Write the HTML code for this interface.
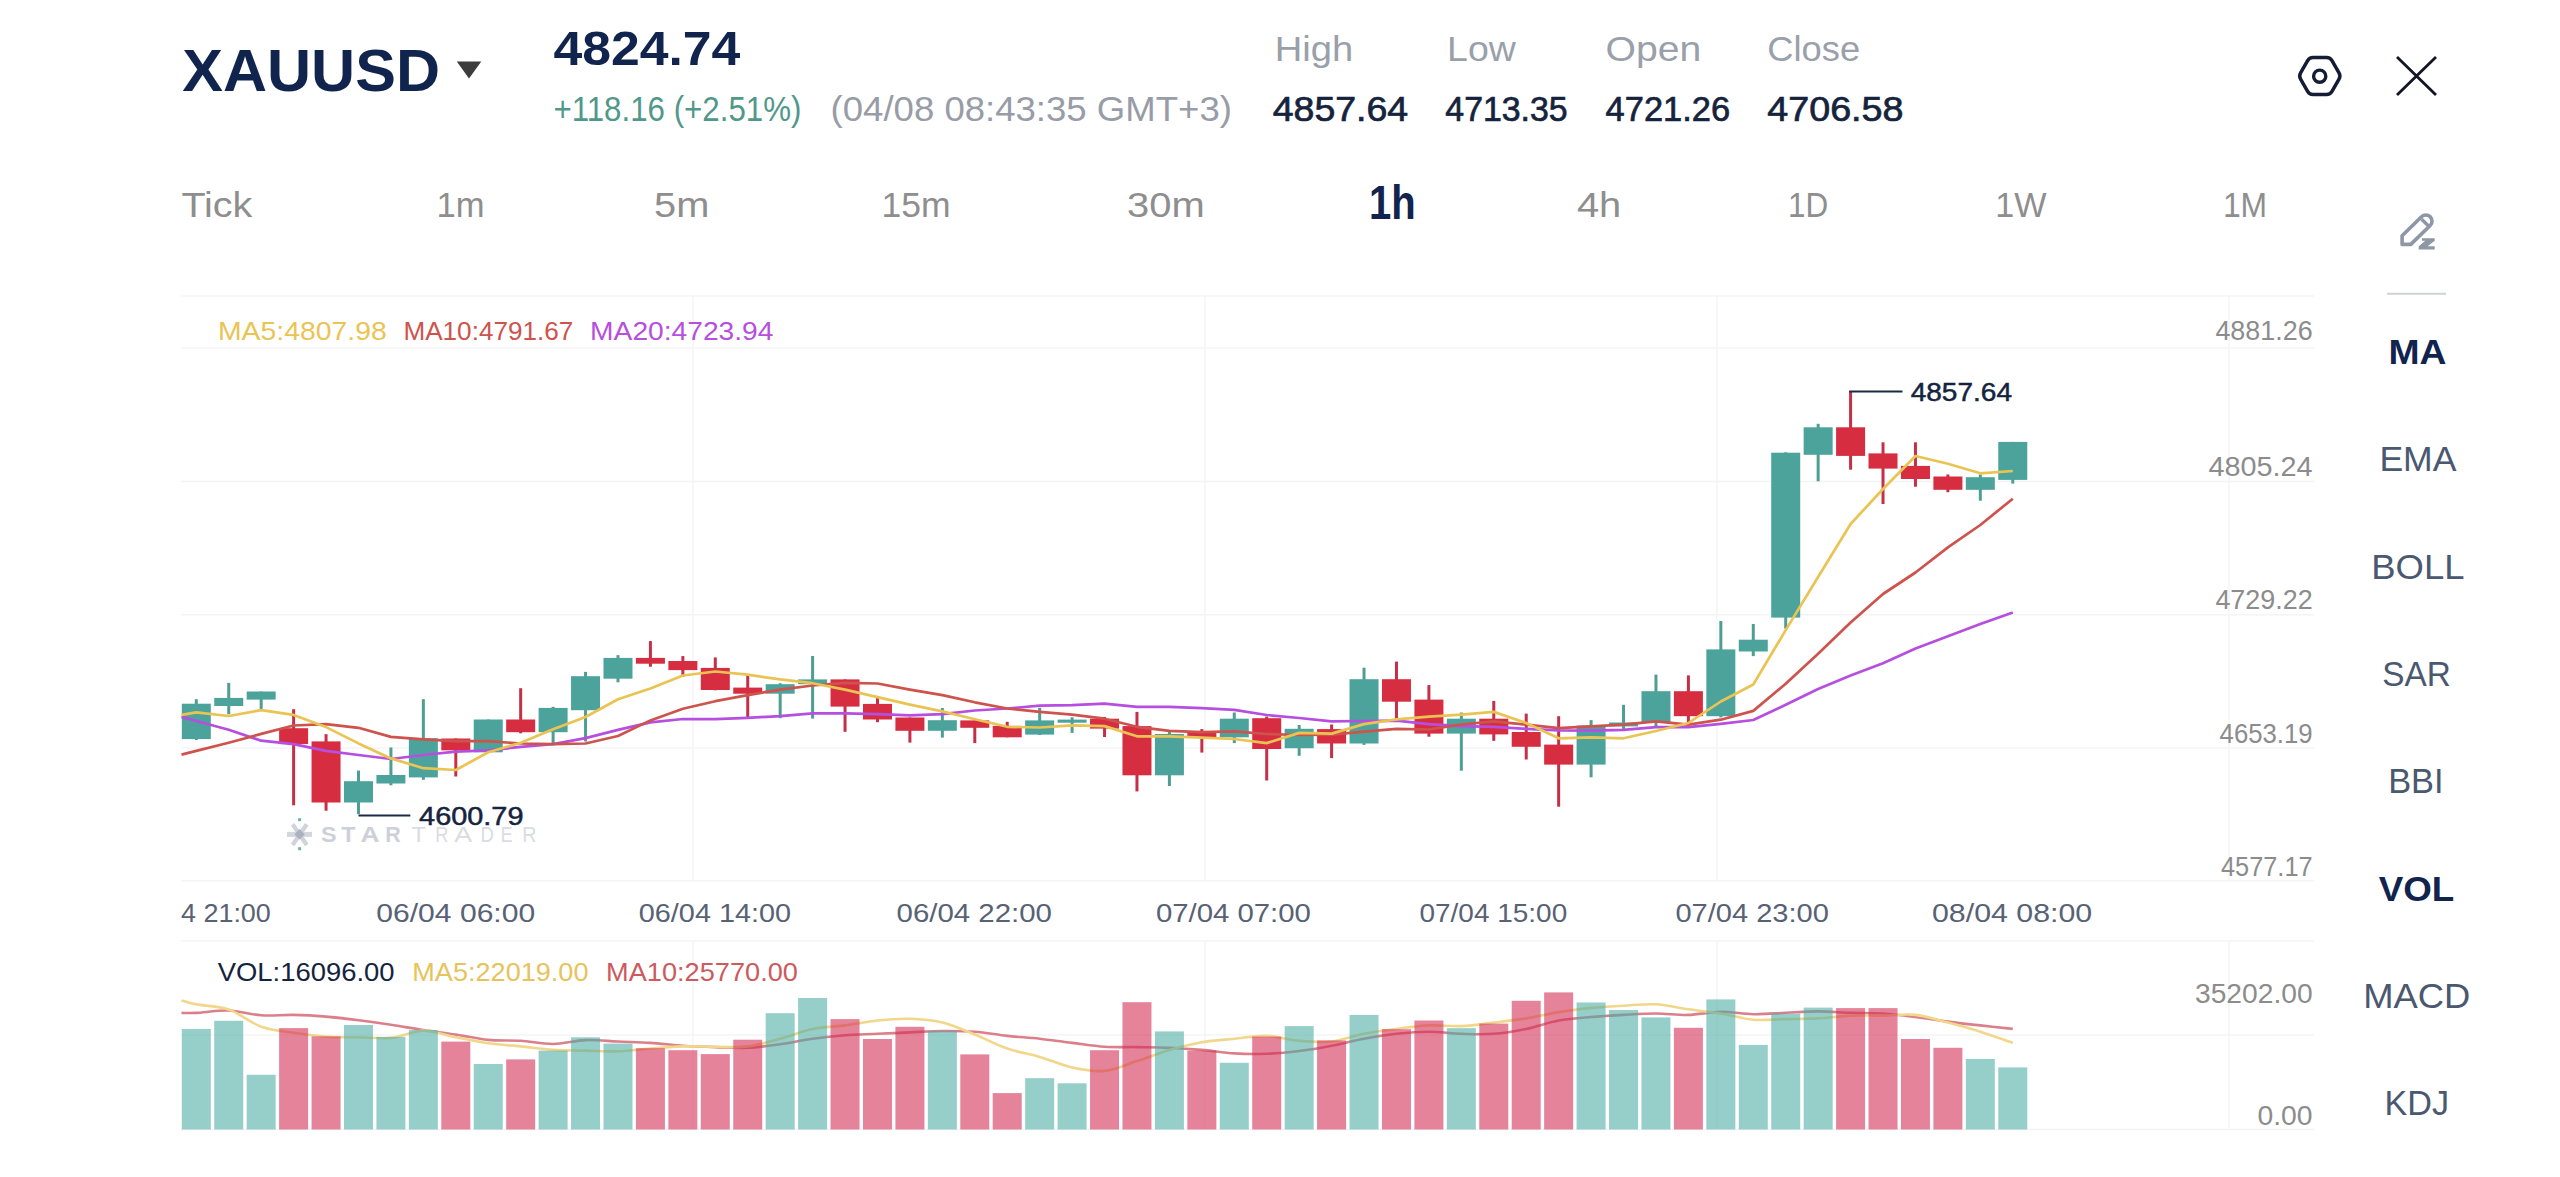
<!DOCTYPE html>
<html><head><meta charset="utf-8"><style>
html,body{margin:0;padding:0;background:#fff;width:2560px;height:1177px;overflow:hidden}
svg{display:block;font-family:"Liberation Sans",sans-serif}
</style></head><body>
<svg width="2560" height="1177" viewBox="0 0 2560 1177">
<rect width="2560" height="1177" fill="#fff"/>
<defs><clipPath id="cl"><rect x="181" y="0" width="2140" height="1177"/></clipPath></defs>
<line x1="181" y1="296" x2="2314" y2="296" stroke="#f4f4f5" stroke-width="1.5"/>
<line x1="181" y1="348" x2="2314" y2="348" stroke="#f4f4f5" stroke-width="1.5"/>
<line x1="181" y1="481.5" x2="2314" y2="481.5" stroke="#f4f4f5" stroke-width="1.5"/>
<line x1="181" y1="614.7" x2="2314" y2="614.7" stroke="#f4f4f5" stroke-width="1.5"/>
<line x1="181" y1="748" x2="2314" y2="748" stroke="#f4f4f5" stroke-width="1.5"/>
<line x1="181" y1="880.7" x2="2314" y2="880.7" stroke="#f4f4f5" stroke-width="1.5"/>
<line x1="181" y1="941" x2="2314" y2="941" stroke="#f4f4f5" stroke-width="1.5"/>
<line x1="181" y1="1035" x2="2314" y2="1035" stroke="#f4f4f5" stroke-width="1.5"/>
<line x1="181" y1="1129.5" x2="2314" y2="1129.5" stroke="#f4f4f5" stroke-width="1.5"/>
<line x1="693" y1="296" x2="693" y2="880.7" stroke="#f4f4f5" stroke-width="1.5"/>
<line x1="693" y1="941" x2="693" y2="1129.5" stroke="#f4f4f5" stroke-width="1.5"/>
<line x1="1205" y1="296" x2="1205" y2="880.7" stroke="#f4f4f5" stroke-width="1.5"/>
<line x1="1205" y1="941" x2="1205" y2="1129.5" stroke="#f4f4f5" stroke-width="1.5"/>
<line x1="1717" y1="296" x2="1717" y2="880.7" stroke="#f4f4f5" stroke-width="1.5"/>
<line x1="1717" y1="941" x2="1717" y2="1129.5" stroke="#f4f4f5" stroke-width="1.5"/>
<line x1="2229" y1="296" x2="2229" y2="880.7" stroke="#f4f4f5" stroke-width="1.5"/>
<line x1="2229" y1="941" x2="2229" y2="1129.5" stroke="#f4f4f5" stroke-width="1.5"/>
<g opacity="1">
<rect x="287" y="831.9" width="25" height="5" fill="#d3d6dd"/>
<path d="M292.6,824.2 L306.8,845 M306.8,824.2 L292.6,845" stroke="#d0d3da" stroke-width="4.2"/>
<polygon points="299.6,829 304.8,834.4 299.6,839.6 294.4,834.4" fill="#aab2c2"/>
<rect x="298.1" y="818.2" width="3" height="3" fill="#6fb3a4"/>
<rect x="298.1" y="847.2" width="3" height="3" fill="#6fb3a4"/>
<text x="321.1" y="841.8" font-size="21.51" font-weight="700" fill="#cdd0d8" textLength="15.5" lengthAdjust="spacingAndGlyphs">S</text>
<text x="341.3" y="841.8" font-size="21.51" font-weight="700" fill="#cdd0d8" textLength="14.3" lengthAdjust="spacingAndGlyphs">T</text>
<text x="360.4" y="841.8" font-size="21.51" font-weight="700" fill="#cdd0d8" textLength="19.0" lengthAdjust="spacingAndGlyphs">A</text>
<text x="385.3" y="841.8" font-size="21.51" font-weight="700" fill="#cdd0d8" textLength="15.5" lengthAdjust="spacingAndGlyphs">R</text>
<text x="411.5" y="841.8" font-size="21.51" font-weight="400" fill="#d9dce3" textLength="14.3" lengthAdjust="spacingAndGlyphs">T</text>
<text x="435.3" y="841.8" font-size="21.51" font-weight="400" fill="#d9dce3" textLength="13.1" lengthAdjust="spacingAndGlyphs">R</text>
<text x="454.3" y="841.8" font-size="21.51" font-weight="400" fill="#d9dce3" textLength="17.9" lengthAdjust="spacingAndGlyphs">A</text>
<text x="480.5" y="841.8" font-size="21.51" font-weight="400" fill="#d9dce3" textLength="13.3" lengthAdjust="spacingAndGlyphs">D</text>
<text x="500.8" y="841.8" font-size="21.51" font-weight="400" fill="#d9dce3" textLength="11.8" lengthAdjust="spacingAndGlyphs">E</text>
<text x="522.2" y="841.8" font-size="21.51" font-weight="400" fill="#d9dce3" textLength="14.2" lengthAdjust="spacingAndGlyphs">R</text>
</g>
<path d="M181.5,1012.9 C184.0,1012.9 188.4,1013.3 196.3,1012.9 C204.2,1012.5 217.9,1010.1 228.7,1010.5 C239.5,1010.9 250.4,1014.6 261.2,1015.3 C272.0,1016.0 282.8,1014.7 293.6,1014.9 C304.4,1015.1 315.2,1015.7 326.0,1016.6 C336.9,1017.5 347.7,1018.8 358.5,1020.2 C369.3,1021.6 380.1,1023.2 390.9,1024.8 C401.7,1026.4 412.5,1028.4 423.4,1030.0 C434.2,1031.6 445.0,1032.9 455.8,1034.6 C466.6,1036.2 477.4,1038.9 488.2,1039.9 C499.0,1040.9 509.9,1040.1 520.7,1040.8 C531.5,1041.5 542.3,1044.1 553.1,1044.0 C563.9,1043.9 574.7,1040.5 585.5,1040.1 C596.4,1039.7 607.2,1041.0 618.0,1041.5 C628.8,1042.0 639.6,1042.2 650.4,1042.9 C661.2,1043.6 672.0,1045.0 682.9,1045.7 C693.7,1046.4 704.5,1046.8 715.3,1047.1 C726.1,1047.4 736.9,1048.3 747.7,1047.8 C758.5,1047.3 769.4,1045.8 780.2,1044.3 C791.0,1042.8 801.8,1040.2 812.6,1038.7 C823.4,1037.2 834.2,1036.0 845.0,1035.2 C855.9,1034.4 866.7,1034.3 877.5,1033.8 C888.3,1033.3 899.1,1032.9 909.9,1032.4 C920.7,1031.9 931.5,1031.1 942.4,1031.0 C953.2,1030.9 964.0,1030.9 974.8,1031.7 C985.6,1032.5 996.4,1034.7 1007.2,1035.9 C1018.0,1037.1 1028.8,1037.5 1039.7,1038.7 C1050.5,1039.9 1061.3,1041.6 1072.1,1042.9 C1082.9,1044.2 1093.7,1046.1 1104.5,1046.8 C1115.3,1047.5 1126.2,1046.9 1137.0,1047.1 C1147.8,1047.3 1158.6,1047.3 1169.4,1047.8 C1180.2,1048.3 1191.0,1049.0 1201.8,1049.9 C1212.7,1050.8 1223.5,1052.8 1234.3,1053.4 C1245.1,1054.1 1255.9,1054.2 1266.7,1053.8 C1277.5,1053.4 1288.3,1052.3 1299.2,1051.0 C1310.0,1049.7 1320.8,1047.8 1331.6,1045.7 C1342.4,1043.7 1353.2,1040.7 1364.0,1038.7 C1374.8,1036.7 1385.7,1035.0 1396.5,1033.8 C1407.3,1032.6 1418.1,1031.7 1428.9,1031.7 C1439.7,1031.7 1450.5,1033.5 1461.3,1033.8 C1472.2,1034.1 1483.0,1034.6 1493.8,1033.8 C1504.6,1033.0 1515.4,1031.1 1526.2,1028.9 C1537.0,1026.7 1547.8,1022.5 1558.7,1020.5 C1569.5,1018.5 1580.3,1017.9 1591.1,1017.0 C1601.9,1016.1 1612.7,1015.5 1623.5,1014.9 C1634.3,1014.3 1645.2,1013.5 1656.0,1013.5 C1666.8,1013.5 1677.6,1015.2 1688.4,1014.9 C1699.2,1014.6 1710.0,1011.9 1720.8,1011.8 C1731.7,1011.7 1742.5,1014.0 1753.3,1014.2 C1764.1,1014.4 1774.9,1013.3 1785.7,1012.8 C1796.5,1012.3 1807.3,1011.4 1818.1,1011.4 C1829.0,1011.4 1839.8,1012.4 1850.6,1012.8 C1861.4,1013.1 1872.2,1012.8 1883.0,1013.5 C1893.8,1014.2 1904.6,1015.6 1915.5,1017.0 C1926.3,1018.4 1937.1,1020.2 1947.9,1021.6 C1958.7,1023.0 1969.5,1024.2 1980.3,1025.4 C1991.1,1026.6 2007.4,1028.3 2012.8,1028.9" fill="none" stroke="#db808a" stroke-width="2.6"/>
<path d="M181.5,1000.4 C184.0,1001.1 188.4,1002.9 196.3,1004.4 C204.2,1005.9 217.9,1005.9 228.7,1009.6 C239.5,1013.3 250.4,1022.9 261.2,1026.7 C272.0,1030.5 282.8,1031.1 293.6,1032.7 C304.4,1034.3 315.2,1035.8 326.0,1036.6 C336.9,1037.4 347.7,1037.1 358.5,1037.3 C369.3,1037.5 380.1,1039.0 390.9,1037.9 C401.7,1036.8 412.5,1030.8 423.4,1030.7 C434.2,1030.6 445.0,1035.2 455.8,1037.3 C466.6,1039.4 477.4,1041.7 488.2,1043.2 C499.0,1044.7 509.9,1045.3 520.7,1046.4 C531.5,1047.5 542.3,1049.2 553.1,1049.9 C563.9,1050.6 574.7,1050.4 585.5,1050.6 C596.4,1050.8 607.2,1051.6 618.0,1051.3 C628.8,1051.0 639.6,1049.3 650.4,1048.5 C661.2,1047.7 672.0,1046.7 682.9,1046.4 C693.7,1046.1 704.5,1046.8 715.3,1046.8 C726.1,1046.8 736.9,1047.8 747.7,1046.4 C758.5,1045.1 769.4,1041.6 780.2,1038.7 C791.0,1035.8 801.8,1031.1 812.6,1028.9 C823.4,1026.7 834.2,1026.8 845.0,1025.4 C855.9,1024.0 866.7,1021.6 877.5,1020.5 C888.3,1019.4 899.1,1018.4 909.9,1018.8 C920.7,1019.1 931.5,1020.0 942.4,1022.6 C953.2,1025.2 964.0,1030.2 974.8,1034.5 C985.6,1038.8 996.4,1044.8 1007.2,1048.5 C1018.0,1052.2 1028.8,1053.8 1039.7,1056.9 C1050.5,1060.1 1061.3,1065.1 1072.1,1067.4 C1082.9,1069.7 1093.7,1072.0 1104.5,1070.9 C1115.3,1069.9 1126.2,1064.6 1137.0,1061.1 C1147.8,1057.6 1158.6,1053.1 1169.4,1049.9 C1180.2,1046.8 1191.0,1044.1 1201.8,1042.2 C1212.7,1040.3 1223.5,1039.8 1234.3,1038.7 C1245.1,1037.7 1255.9,1035.6 1266.7,1035.9 C1277.5,1036.2 1288.3,1039.9 1299.2,1040.8 C1310.0,1041.7 1320.8,1042.7 1331.6,1041.5 C1342.4,1040.3 1353.2,1035.9 1364.0,1033.8 C1374.8,1031.7 1385.7,1030.3 1396.5,1028.9 C1407.3,1027.5 1418.1,1025.9 1428.9,1025.4 C1439.7,1024.9 1450.5,1026.6 1461.3,1026.1 C1472.2,1025.6 1483.0,1023.9 1493.8,1022.6 C1504.6,1021.3 1515.4,1020.1 1526.2,1018.4 C1537.0,1016.6 1547.8,1013.9 1558.7,1012.1 C1569.5,1010.4 1580.3,1009.0 1591.1,1007.9 C1601.9,1006.8 1612.7,1006.3 1623.5,1005.7 C1634.3,1005.1 1645.2,1003.7 1656.0,1004.3 C1666.8,1004.9 1677.6,1007.8 1688.4,1009.3 C1699.2,1010.8 1710.0,1011.8 1720.8,1013.5 C1731.7,1015.2 1742.5,1018.9 1753.3,1019.8 C1764.1,1020.7 1774.9,1019.3 1785.7,1019.1 C1796.5,1018.9 1807.3,1019.0 1818.1,1018.4 C1829.0,1017.8 1839.8,1016.1 1850.6,1015.6 C1861.4,1015.1 1872.2,1015.7 1883.0,1015.6 C1893.8,1015.5 1904.6,1013.7 1915.5,1014.9 C1926.3,1016.1 1937.1,1019.8 1947.9,1022.6 C1958.7,1025.4 1969.5,1028.3 1980.3,1031.7 C1991.1,1035.1 2007.4,1041.0 2012.8,1042.9" fill="none" stroke="#f2d68a" stroke-width="2.6"/>
<rect x="181.80" y="1029.0" width="29.0" height="100.5" fill="#4aaba4" fill-opacity="0.58"/>
<rect x="214.24" y="1020.8" width="29.0" height="108.7" fill="#4aaba4" fill-opacity="0.58"/>
<rect x="246.67" y="1074.8" width="29.0" height="54.7" fill="#4aaba4" fill-opacity="0.58"/>
<rect x="279.11" y="1028.1" width="29.0" height="101.4" fill="#d22951" fill-opacity="0.58"/>
<rect x="311.55" y="1036.4" width="29.0" height="93.1" fill="#d22951" fill-opacity="0.58"/>
<rect x="343.99" y="1025.0" width="29.0" height="104.5" fill="#4aaba4" fill-opacity="0.58"/>
<rect x="376.42" y="1036.9" width="29.0" height="92.6" fill="#4aaba4" fill-opacity="0.58"/>
<rect x="408.86" y="1030.0" width="29.0" height="99.5" fill="#4aaba4" fill-opacity="0.58"/>
<rect x="441.30" y="1041.6" width="29.0" height="87.9" fill="#d22951" fill-opacity="0.58"/>
<rect x="473.73" y="1064.0" width="29.0" height="65.5" fill="#4aaba4" fill-opacity="0.58"/>
<rect x="506.17" y="1059.4" width="29.0" height="70.1" fill="#d22951" fill-opacity="0.58"/>
<rect x="538.61" y="1050.6" width="29.0" height="78.9" fill="#4aaba4" fill-opacity="0.58"/>
<rect x="571.04" y="1037.3" width="29.0" height="92.2" fill="#4aaba4" fill-opacity="0.58"/>
<rect x="603.48" y="1043.6" width="29.0" height="85.9" fill="#4aaba4" fill-opacity="0.58"/>
<rect x="635.92" y="1048.2" width="29.0" height="81.3" fill="#d22951" fill-opacity="0.58"/>
<rect x="668.36" y="1050.2" width="29.0" height="79.3" fill="#d22951" fill-opacity="0.58"/>
<rect x="700.79" y="1054.1" width="29.0" height="75.4" fill="#d22951" fill-opacity="0.58"/>
<rect x="733.23" y="1039.7" width="29.0" height="89.8" fill="#d22951" fill-opacity="0.58"/>
<rect x="765.67" y="1013.2" width="29.0" height="116.3" fill="#4aaba4" fill-opacity="0.58"/>
<rect x="798.10" y="998.0" width="29.0" height="131.5" fill="#4aaba4" fill-opacity="0.58"/>
<rect x="830.54" y="1019.1" width="29.0" height="110.4" fill="#d22951" fill-opacity="0.58"/>
<rect x="862.98" y="1039.0" width="29.0" height="90.5" fill="#d22951" fill-opacity="0.58"/>
<rect x="895.41" y="1026.8" width="29.0" height="102.7" fill="#d22951" fill-opacity="0.58"/>
<rect x="927.85" y="1031.0" width="29.0" height="98.5" fill="#4aaba4" fill-opacity="0.58"/>
<rect x="960.29" y="1054.4" width="29.0" height="75.1" fill="#d22951" fill-opacity="0.58"/>
<rect x="992.72" y="1093.1" width="29.0" height="36.4" fill="#d22951" fill-opacity="0.58"/>
<rect x="1025.16" y="1078.2" width="29.0" height="51.3" fill="#4aaba4" fill-opacity="0.58"/>
<rect x="1057.60" y="1083.3" width="29.0" height="46.2" fill="#4aaba4" fill-opacity="0.58"/>
<rect x="1090.04" y="1050.2" width="29.0" height="79.3" fill="#d22951" fill-opacity="0.58"/>
<rect x="1122.47" y="1002.2" width="29.0" height="127.3" fill="#d22951" fill-opacity="0.58"/>
<rect x="1154.91" y="1031.4" width="29.0" height="98.1" fill="#4aaba4" fill-opacity="0.58"/>
<rect x="1187.35" y="1050.6" width="29.0" height="78.9" fill="#d22951" fill-opacity="0.58"/>
<rect x="1219.78" y="1062.8" width="29.0" height="66.7" fill="#4aaba4" fill-opacity="0.58"/>
<rect x="1252.22" y="1036.6" width="29.0" height="92.9" fill="#d22951" fill-opacity="0.58"/>
<rect x="1284.66" y="1026.1" width="29.0" height="103.4" fill="#4aaba4" fill-opacity="0.58"/>
<rect x="1317.09" y="1040.4" width="29.0" height="89.1" fill="#d22951" fill-opacity="0.58"/>
<rect x="1349.53" y="1014.9" width="29.0" height="114.6" fill="#4aaba4" fill-opacity="0.58"/>
<rect x="1381.97" y="1029.2" width="29.0" height="100.3" fill="#d22951" fill-opacity="0.58"/>
<rect x="1414.41" y="1020.5" width="29.0" height="109.0" fill="#d22951" fill-opacity="0.58"/>
<rect x="1446.84" y="1028.2" width="29.0" height="101.3" fill="#4aaba4" fill-opacity="0.58"/>
<rect x="1479.28" y="1023.6" width="29.0" height="105.9" fill="#d22951" fill-opacity="0.58"/>
<rect x="1511.72" y="1000.8" width="29.0" height="128.7" fill="#d22951" fill-opacity="0.58"/>
<rect x="1544.15" y="992.4" width="29.0" height="137.1" fill="#d22951" fill-opacity="0.58"/>
<rect x="1576.59" y="1002.5" width="29.0" height="127.0" fill="#4aaba4" fill-opacity="0.58"/>
<rect x="1609.03" y="1010.0" width="29.0" height="119.5" fill="#4aaba4" fill-opacity="0.58"/>
<rect x="1641.46" y="1017.4" width="29.0" height="112.1" fill="#4aaba4" fill-opacity="0.58"/>
<rect x="1673.90" y="1027.8" width="29.0" height="101.7" fill="#d22951" fill-opacity="0.58"/>
<rect x="1706.34" y="999.4" width="29.0" height="130.1" fill="#4aaba4" fill-opacity="0.58"/>
<rect x="1738.78" y="1045.0" width="29.0" height="84.5" fill="#4aaba4" fill-opacity="0.58"/>
<rect x="1771.21" y="1013.7" width="29.0" height="115.8" fill="#4aaba4" fill-opacity="0.58"/>
<rect x="1803.65" y="1007.6" width="29.0" height="121.9" fill="#4aaba4" fill-opacity="0.58"/>
<rect x="1836.09" y="1008.1" width="29.0" height="121.4" fill="#d22951" fill-opacity="0.58"/>
<rect x="1868.52" y="1008.1" width="29.0" height="121.4" fill="#d22951" fill-opacity="0.58"/>
<rect x="1900.96" y="1039.0" width="29.0" height="90.5" fill="#d22951" fill-opacity="0.58"/>
<rect x="1933.40" y="1047.8" width="29.0" height="81.7" fill="#d22951" fill-opacity="0.58"/>
<rect x="1965.83" y="1059.0" width="29.0" height="70.5" fill="#4aaba4" fill-opacity="0.58"/>
<rect x="1998.27" y="1067.4" width="29.0" height="62.1" fill="#4aaba4" fill-opacity="0.58"/>
<g>
<rect x="194.80" y="699.2" width="3" height="40.8" fill="#4f9e94"/>
<rect x="181.80" y="703.7" width="29.0" height="35.4" fill="#4ca39b"/>
<rect x="227.24" y="682.9" width="3" height="31.3" fill="#4f9e94"/>
<rect x="214.24" y="697.9" width="29.0" height="8.1" fill="#4ca39b"/>
<rect x="259.67" y="691.5" width="3" height="18.6" fill="#4f9e94"/>
<rect x="246.67" y="691.5" width="29.0" height="8.1" fill="#4ca39b"/>
<rect x="292.11" y="709.2" width="3" height="96.1" fill="#c53048"/>
<rect x="279.11" y="728.2" width="29.0" height="15.9" fill="#d72d41"/>
<rect x="324.55" y="734.2" width="3" height="76.5" fill="#c53048"/>
<rect x="311.55" y="741.4" width="29.0" height="61.1" fill="#d72d41"/>
<rect x="356.99" y="770.6" width="3" height="43.5" fill="#4f9e94"/>
<rect x="343.99" y="781.2" width="29.0" height="21.3" fill="#4ca39b"/>
<rect x="389.42" y="747.5" width="3" height="37.8" fill="#4f9e94"/>
<rect x="376.42" y="775.0" width="29.0" height="8.5" fill="#4ca39b"/>
<rect x="421.86" y="699.2" width="3" height="80.6" fill="#4f9e94"/>
<rect x="408.86" y="738.2" width="29.0" height="39.2" fill="#4ca39b"/>
<rect x="454.30" y="738.5" width="3" height="38.0" fill="#c53048"/>
<rect x="441.30" y="738.5" width="29.0" height="11.8" fill="#d72d41"/>
<rect x="486.73" y="719.5" width="3" height="32.8" fill="#4f9e94"/>
<rect x="473.73" y="719.5" width="29.0" height="32.8" fill="#4ca39b"/>
<rect x="519.17" y="688.2" width="3" height="45.1" fill="#c53048"/>
<rect x="506.17" y="719.5" width="29.0" height="12.7" fill="#d72d41"/>
<rect x="551.61" y="706.8" width="3" height="36.7" fill="#4f9e94"/>
<rect x="538.61" y="707.9" width="29.0" height="24.3" fill="#4ca39b"/>
<rect x="584.04" y="671.9" width="3" height="69.6" fill="#4f9e94"/>
<rect x="571.04" y="676.2" width="29.0" height="34.0" fill="#4ca39b"/>
<rect x="616.48" y="655.1" width="3" height="27.2" fill="#4f9e94"/>
<rect x="603.48" y="657.9" width="29.0" height="20.8" fill="#4ca39b"/>
<rect x="648.92" y="641.1" width="3" height="25.6" fill="#c53048"/>
<rect x="635.92" y="657.9" width="29.0" height="5.8" fill="#d72d41"/>
<rect x="681.36" y="656.1" width="3" height="20.8" fill="#c53048"/>
<rect x="668.36" y="661.0" width="29.0" height="9.1" fill="#d72d41"/>
<rect x="713.79" y="657.4" width="3" height="32.9" fill="#c53048"/>
<rect x="700.79" y="667.9" width="29.0" height="22.1" fill="#d72d41"/>
<rect x="746.23" y="674.7" width="3" height="43.5" fill="#c53048"/>
<rect x="733.23" y="687.6" width="29.0" height="6.1" fill="#d72d41"/>
<rect x="778.67" y="683.2" width="3" height="35.0" fill="#4f9e94"/>
<rect x="765.67" y="684.2" width="29.0" height="9.5" fill="#4ca39b"/>
<rect x="811.10" y="656.0" width="3" height="62.6" fill="#4f9e94"/>
<rect x="798.10" y="679.4" width="29.0" height="4.8" fill="#4ca39b"/>
<rect x="843.54" y="679.4" width="3" height="52.4" fill="#c53048"/>
<rect x="830.54" y="679.4" width="29.0" height="27.2" fill="#d72d41"/>
<rect x="875.98" y="697.1" width="3" height="25.1" fill="#c53048"/>
<rect x="862.98" y="703.9" width="29.0" height="15.6" fill="#d72d41"/>
<rect x="908.41" y="717.5" width="3" height="25.1" fill="#c53048"/>
<rect x="895.41" y="717.5" width="29.0" height="13.3" fill="#d72d41"/>
<rect x="940.85" y="708.0" width="3" height="29.6" fill="#4f9e94"/>
<rect x="927.85" y="720.2" width="29.0" height="10.6" fill="#4ca39b"/>
<rect x="973.29" y="720.4" width="3" height="22.7" fill="#c53048"/>
<rect x="960.29" y="720.4" width="29.0" height="7.4" fill="#d72d41"/>
<rect x="1005.72" y="721.8" width="3" height="15.5" fill="#c53048"/>
<rect x="992.72" y="725.9" width="29.0" height="11.4" fill="#d72d41"/>
<rect x="1038.16" y="707.8" width="3" height="27.2" fill="#4f9e94"/>
<rect x="1025.16" y="720.4" width="29.0" height="14.2" fill="#4ca39b"/>
<rect x="1070.60" y="717.3" width="3" height="15.6" fill="#4f9e94"/>
<rect x="1057.60" y="719.6" width="29.0" height="3.1" fill="#4ca39b"/>
<rect x="1103.04" y="716.9" width="3" height="20.1" fill="#c53048"/>
<rect x="1090.04" y="718.7" width="29.0" height="9.9" fill="#d72d41"/>
<rect x="1135.47" y="711.9" width="3" height="79.5" fill="#c53048"/>
<rect x="1122.47" y="726.1" width="29.0" height="49.2" fill="#d72d41"/>
<rect x="1167.91" y="730.2" width="3" height="55.8" fill="#4f9e94"/>
<rect x="1154.91" y="734.0" width="29.0" height="41.3" fill="#4ca39b"/>
<rect x="1200.35" y="729.1" width="3" height="23.5" fill="#c53048"/>
<rect x="1187.35" y="732.2" width="29.0" height="4.8" fill="#d72d41"/>
<rect x="1232.78" y="712.5" width="3" height="30.6" fill="#4f9e94"/>
<rect x="1219.78" y="718.7" width="29.0" height="18.6" fill="#4ca39b"/>
<rect x="1265.22" y="716.6" width="3" height="63.9" fill="#c53048"/>
<rect x="1252.22" y="718.2" width="29.0" height="30.8" fill="#d72d41"/>
<rect x="1297.66" y="725.0" width="3" height="30.8" fill="#4f9e94"/>
<rect x="1284.66" y="728.8" width="29.0" height="19.4" fill="#4ca39b"/>
<rect x="1330.09" y="724.5" width="3" height="33.6" fill="#c53048"/>
<rect x="1317.09" y="729.1" width="29.0" height="14.4" fill="#d72d41"/>
<rect x="1362.53" y="667.7" width="3" height="77.2" fill="#4f9e94"/>
<rect x="1349.53" y="679.2" width="29.0" height="64.3" fill="#4ca39b"/>
<rect x="1394.97" y="661.6" width="3" height="57.1" fill="#c53048"/>
<rect x="1381.97" y="679.2" width="29.0" height="22.5" fill="#d72d41"/>
<rect x="1427.41" y="685.1" width="3" height="51.6" fill="#c53048"/>
<rect x="1414.41" y="699.6" width="29.0" height="34.0" fill="#d72d41"/>
<rect x="1459.84" y="712.5" width="3" height="58.2" fill="#4f9e94"/>
<rect x="1446.84" y="718.7" width="29.0" height="14.9" fill="#4ca39b"/>
<rect x="1492.28" y="700.9" width="3" height="39.9" fill="#c53048"/>
<rect x="1479.28" y="718.7" width="29.0" height="15.7" fill="#d72d41"/>
<rect x="1524.72" y="713.6" width="3" height="45.9" fill="#c53048"/>
<rect x="1511.72" y="732.0" width="29.0" height="14.8" fill="#d72d41"/>
<rect x="1557.15" y="716.2" width="3" height="90.5" fill="#c53048"/>
<rect x="1544.15" y="744.6" width="29.0" height="20.0" fill="#d72d41"/>
<rect x="1589.59" y="720.1" width="3" height="57.2" fill="#4f9e94"/>
<rect x="1576.59" y="725.5" width="29.0" height="39.1" fill="#4ca39b"/>
<rect x="1622.03" y="704.8" width="3" height="24.1" fill="#4f9e94"/>
<rect x="1609.03" y="722.5" width="29.0" height="3.9" fill="#4ca39b"/>
<rect x="1654.46" y="674.6" width="3" height="52.6" fill="#4f9e94"/>
<rect x="1641.46" y="691.2" width="29.0" height="30.9" fill="#4ca39b"/>
<rect x="1686.90" y="675.4" width="3" height="46.7" fill="#c53048"/>
<rect x="1673.90" y="691.2" width="29.0" height="25.0" fill="#d72d41"/>
<rect x="1719.34" y="621.0" width="3" height="96.4" fill="#4f9e94"/>
<rect x="1706.34" y="649.4" width="29.0" height="66.8" fill="#4ca39b"/>
<rect x="1751.78" y="624.0" width="3" height="32.1" fill="#4f9e94"/>
<rect x="1738.78" y="639.7" width="29.0" height="11.8" fill="#4ca39b"/>
<rect x="1784.21" y="452.3" width="3" height="176.3" fill="#4f9e94"/>
<rect x="1771.21" y="452.7" width="29.0" height="164.9" fill="#4ca39b"/>
<rect x="1816.65" y="423.8" width="3" height="57.5" fill="#4f9e94"/>
<rect x="1803.65" y="427.3" width="29.0" height="27.5" fill="#4ca39b"/>
<rect x="1849.09" y="391.6" width="3" height="78.1" fill="#c53048"/>
<rect x="1836.09" y="427.3" width="29.0" height="28.6" fill="#d72d41"/>
<rect x="1881.52" y="442.3" width="3" height="61.7" fill="#c53048"/>
<rect x="1868.52" y="453.4" width="29.0" height="15.2" fill="#d72d41"/>
<rect x="1913.96" y="442.3" width="3" height="44.4" fill="#c53048"/>
<rect x="1900.96" y="465.9" width="29.0" height="13.1" fill="#d72d41"/>
<rect x="1946.40" y="474.5" width="3" height="17.7" fill="#c53048"/>
<rect x="1933.40" y="476.5" width="29.0" height="13.3" fill="#d72d41"/>
<rect x="1978.83" y="474.5" width="3" height="26.2" fill="#4f9e94"/>
<rect x="1965.83" y="477.2" width="29.0" height="12.6" fill="#4ca39b"/>
<rect x="2011.27" y="441.9" width="3" height="41.7" fill="#4f9e94"/>
<rect x="1998.27" y="441.9" width="29.0" height="38.0" fill="#4ca39b"/>
</g>
<path d="M181.5,716.9 L196.3,721.0 L228.7,729.8 L261.2,740.7 L293.6,744.1 L326.0,750.9 L358.5,755.0 L390.9,759.0 L423.4,755.0 L455.8,751.7 L488.2,750.3 L520.7,746.9 L553.1,744.2 L585.5,738.1 L618.0,729.9 L650.4,722.4 L682.9,719.0 L715.3,719.1 L747.7,717.8 L780.2,716.1 L812.6,713.4 L845.0,713.4 L877.5,714.1 L909.9,715.4 L942.4,714.1 L974.8,710.5 L1007.2,708.5 L1039.7,705.7 L1072.1,705.1 L1104.5,703.7 L1137.0,706.8 L1169.4,706.8 L1201.8,708.2 L1234.3,709.8 L1266.7,715.0 L1299.2,718.0 L1331.6,721.4 L1364.0,721.0 L1396.5,720.7 L1428.9,724.1 L1461.3,726.1 L1493.8,726.9 L1526.2,728.9 L1558.7,730.3 L1591.1,730.6 L1623.5,729.8 L1656.0,727.2 L1688.4,727.2 L1720.8,723.8 L1753.3,720.0 L1785.7,704.8 L1818.1,689.0 L1850.6,675.6 L1883.0,663.2 L1915.5,648.4 L1947.9,636.2 L1980.3,624.0 L2012.8,612.5" fill="none" stroke="#b64fe0" stroke-width="2.7" stroke-linejoin="round"/>
<path d="M181.5,754.6 L196.3,750.9 L228.7,742.7 L261.2,733.9 L293.6,725.5 L326.0,724.1 L358.5,727.8 L390.9,736.9 L423.4,739.3 L455.8,741.2 L488.2,741.2 L520.7,743.5 L553.1,744.2 L585.5,743.5 L618.0,736.0 L650.4,720.4 L682.9,708.8 L715.3,701.2 L747.7,695.1 L780.2,689.6 L812.6,685.5 L845.0,682.8 L877.5,683.5 L909.9,689.6 L942.4,695.1 L974.8,702.3 L1007.2,708.5 L1039.7,711.9 L1072.1,714.6 L1104.5,718.7 L1137.0,726.8 L1169.4,730.9 L1201.8,732.2 L1234.3,731.3 L1266.7,734.0 L1299.2,735.0 L1331.6,734.6 L1364.0,731.6 L1396.5,728.8 L1428.9,729.5 L1461.3,724.5 L1493.8,721.3 L1526.2,724.7 L1558.7,728.1 L1591.1,726.4 L1623.5,724.7 L1656.0,721.3 L1688.4,724.7 L1720.8,719.7 L1753.3,710.9 L1785.7,683.7 L1818.1,653.8 L1850.6,622.5 L1883.0,594.0 L1915.5,572.5 L1947.9,547.4 L1980.3,525.0 L2012.8,498.7" fill="none" stroke="#cf534d" stroke-width="2.7" stroke-linejoin="round"/>
<path d="M181.5,714.9 L196.3,712.4 L228.7,716.0 L261.2,710.1 L293.6,714.9 L326.0,727.1 L358.5,743.4 L390.9,758.4 L423.4,768.2 L455.8,770.0 L488.2,752.3 L520.7,742.8 L553.1,729.2 L585.5,717.0 L618.0,699.3 L650.4,688.5 L682.9,675.5 L715.3,671.5 L747.7,674.7 L780.2,679.4 L812.6,683.2 L845.0,689.6 L877.5,697.1 L909.9,704.6 L942.4,711.4 L974.8,719.3 L1007.2,726.8 L1039.7,727.5 L1072.1,725.4 L1104.5,726.1 L1137.0,736.3 L1169.4,736.3 L1201.8,737.7 L1234.3,739.0 L1266.7,743.1 L1299.2,732.9 L1331.6,733.6 L1364.0,724.1 L1396.5,719.3 L1428.9,716.6 L1461.3,714.6 L1493.8,711.9 L1526.2,723.0 L1558.7,738.3 L1591.1,737.4 L1623.5,738.3 L1656.0,731.0 L1688.4,723.0 L1720.8,701.5 L1753.3,684.5 L1785.7,630.1 L1818.1,577.0 L1850.6,524.0 L1883.0,489.0 L1915.5,456.0 L1947.9,463.8 L1980.3,473.3 L2012.8,471.0" fill="none" stroke="#eac453" stroke-width="2.7" stroke-linejoin="round"/>
<line x1="1849.1" y1="391.6" x2="1902.5" y2="391.6" stroke="#1b2a44" stroke-width="2"/>
<text x="1910.7" y="401.0" font-size="26.60" font-weight="400" fill="#142340" textLength="101.3" lengthAdjust="spacingAndGlyphs" stroke="#142340" stroke-width="0.5">4857.64</text>
<line x1="358.5" y1="815.6" x2="410.3" y2="815.6" stroke="#1b2a44" stroke-width="2"/>
<text x="419.1" y="824.8" font-size="25.58" font-weight="400" fill="#142340" textLength="104.4" lengthAdjust="spacingAndGlyphs" stroke="#142340" stroke-width="0.5">4600.79</text>
<text x="182.2" y="90.6" font-size="59.16" font-weight="700" fill="#10244e" textLength="257.8" lengthAdjust="spacingAndGlyphs">XAUUSD</text>
<polygon points="456.8,61.5 481.3,61.5 469,78.6" fill="#3c3c3c"/>
<text x="553.4" y="65.4" font-size="47.38" font-weight="700" fill="#10244e" textLength="186.9" lengthAdjust="spacingAndGlyphs">4824.74</text>
<text x="553.4" y="120.9" font-size="35.17" font-weight="400" fill="#50988a" textLength="248.0" lengthAdjust="spacingAndGlyphs">+118.16 (+2.51%)</text>
<text x="830.6" y="120.8" font-size="34.30" font-weight="400" fill="#979ca6" textLength="401.3" lengthAdjust="spacingAndGlyphs">(04/08 08:43:35 GMT+3)</text>
<text x="1274.8" y="61.1" font-size="34.30" font-weight="400" fill="#9aa0aa" textLength="78.5" lengthAdjust="spacingAndGlyphs">High</text>
<text x="1447.1" y="61.1" font-size="34.30" font-weight="400" fill="#9aa0aa" textLength="68.7" lengthAdjust="spacingAndGlyphs">Low</text>
<text x="1605.6" y="61.1" font-size="34.30" font-weight="400" fill="#9aa0aa" textLength="95.7" lengthAdjust="spacingAndGlyphs">Open</text>
<text x="1767.3" y="61.1" font-size="34.30" font-weight="400" fill="#9aa0aa" textLength="92.8" lengthAdjust="spacingAndGlyphs">Close</text>
<text x="1272.7" y="120.9" font-size="35.32" font-weight="400" fill="#15233d" textLength="135.5" lengthAdjust="spacingAndGlyphs" stroke="#15233d" stroke-width="0.7">4857.64</text>
<text x="1445.3" y="120.9" font-size="35.32" font-weight="400" fill="#15233d" textLength="122.4" lengthAdjust="spacingAndGlyphs" stroke="#15233d" stroke-width="0.7">4713.35</text>
<text x="1605.6" y="120.9" font-size="35.32" font-weight="400" fill="#15233d" textLength="124.6" lengthAdjust="spacingAndGlyphs" stroke="#15233d" stroke-width="0.7">4721.26</text>
<text x="1767.3" y="120.9" font-size="35.32" font-weight="400" fill="#15233d" textLength="136.2" lengthAdjust="spacingAndGlyphs" stroke="#15233d" stroke-width="0.7">4706.58</text>
<path d="M2300.59,79.22 Q2298.80,76.10 2300.59,72.98 L2307.61,60.72 Q2309.40,57.60 2313.00,57.60 L2326.60,57.60 Q2330.20,57.60 2331.99,60.72 L2339.01,72.98 Q2340.80,76.10 2339.01,79.22 L2331.99,91.48 Q2330.20,94.60 2326.60,94.60 L2313.00,94.60 Q2309.40,94.60 2307.61,91.48 Z" fill="none" stroke="#151d36" stroke-width="3.5"/>
<circle cx="2319.7" cy="76.2" r="6.1" fill="none" stroke="#151d36" stroke-width="3.4"/>
<path d="M2397,57 L2436,95 M2436,57 L2397,95" stroke="#121624" stroke-width="2.8" fill="none"/>
<text x="181.4" y="216.5" font-size="35.47" font-weight="400" fill="#8e8e8e" textLength="71.0" lengthAdjust="spacingAndGlyphs">Tick</text>
<text x="436.6" y="216.5" font-size="35.47" font-weight="400" fill="#8e8e8e" textLength="48.1" lengthAdjust="spacingAndGlyphs">1m</text>
<text x="654.0" y="216.5" font-size="35.47" font-weight="400" fill="#8e8e8e" textLength="55.3" lengthAdjust="spacingAndGlyphs">5m</text>
<text x="881.4" y="216.5" font-size="35.47" font-weight="400" fill="#8e8e8e" textLength="69.1" lengthAdjust="spacingAndGlyphs">15m</text>
<text x="1127.1" y="216.5" font-size="35.47" font-weight="400" fill="#8e8e8e" textLength="77.7" lengthAdjust="spacingAndGlyphs">30m</text>
<text x="1576.9" y="216.5" font-size="35.47" font-weight="400" fill="#8e8e8e" textLength="44.3" lengthAdjust="spacingAndGlyphs">4h</text>
<text x="1788.1" y="216.5" font-size="35.47" font-weight="400" fill="#8e8e8e" textLength="40.2" lengthAdjust="spacingAndGlyphs">1D</text>
<text x="1995.2" y="216.5" font-size="35.47" font-weight="400" fill="#8e8e8e" textLength="51.3" lengthAdjust="spacingAndGlyphs">1W</text>
<text x="2222.9" y="216.5" font-size="35.47" font-weight="400" fill="#8e8e8e" textLength="44.3" lengthAdjust="spacingAndGlyphs">1M</text>
<text x="1369.1" y="219.4" font-size="47.53" font-weight="700" fill="#10244e" textLength="46.7" lengthAdjust="spacingAndGlyphs">1h</text>
<path d="M2402.1,244.4 L2402.1,235.7 L2421.5,216.8 A6.1,6.1 0 0 1 2430.2,225.5 L2410.8,244.4 Z" fill="none" stroke="#8e97a6" stroke-width="3.6" stroke-linejoin="round"/>
<line x1="2421.6" y1="219.2" x2="2428.8" y2="226.2" stroke="#8e97a6" stroke-width="3.4"/>
<polygon points="2422,238.2 2434.7,238.2 2434.7,240.8 2427.6,246.2 2434.7,246.2 2434.7,249.5 2418.7,249.5 2418.7,246.2 2425.3,240.8 2422,240.8" fill="#8e97a6"/>
<line x1="2387" y1="293.8" x2="2446" y2="293.8" stroke="#cfd1d6" stroke-width="2"/>
<text x="2388.4" y="363.7" font-size="34.74" font-weight="700" fill="#10244e" textLength="58.0" lengthAdjust="spacingAndGlyphs">MA</text>
<text x="2379.4" y="471.3" font-size="35.32" font-weight="400" fill="#4a5870" textLength="77.1" lengthAdjust="spacingAndGlyphs">EMA</text>
<text x="2371.3" y="578.7" font-size="35.32" font-weight="400" fill="#4a5870" textLength="93.1" lengthAdjust="spacingAndGlyphs">BOLL</text>
<text x="2382.2" y="686.1" font-size="35.32" font-weight="400" fill="#4a5870" textLength="68.6" lengthAdjust="spacingAndGlyphs">SAR</text>
<text x="2388.2" y="792.8" font-size="35.32" font-weight="400" fill="#4a5870" textLength="55.4" lengthAdjust="spacingAndGlyphs">BBI</text>
<text x="2363.3" y="1007.9" font-size="35.32" font-weight="400" fill="#4a5870" textLength="107.1" lengthAdjust="spacingAndGlyphs">MACD</text>
<text x="2384.4" y="1115.0" font-size="35.32" font-weight="400" fill="#4a5870" textLength="64.6" lengthAdjust="spacingAndGlyphs">KDJ</text>
<text x="2378.7" y="900.8" font-size="35.32" font-weight="700" fill="#10244e" textLength="75.6" lengthAdjust="spacingAndGlyphs">VOL</text>
<text x="2215.4" y="340.0" font-size="27.03" font-weight="400" fill="#8c8c8c" textLength="97.2" lengthAdjust="spacingAndGlyphs">4881.26</text>
<text x="2208.5" y="475.8" font-size="27.03" font-weight="400" fill="#8c8c8c" textLength="104.1" lengthAdjust="spacingAndGlyphs">4805.24</text>
<text x="2215.4" y="608.8" font-size="27.03" font-weight="400" fill="#8c8c8c" textLength="97.2" lengthAdjust="spacingAndGlyphs">4729.22</text>
<text x="2219.6" y="742.7" font-size="27.03" font-weight="400" fill="#8c8c8c" textLength="93.0" lengthAdjust="spacingAndGlyphs">4653.19</text>
<text x="2221.0" y="876.4" font-size="27.03" font-weight="400" fill="#8c8c8c" textLength="91.6" lengthAdjust="spacingAndGlyphs">4577.17</text>
<text x="2195.0" y="1002.8" font-size="27.03" font-weight="400" fill="#8c8c8c" textLength="117.6" lengthAdjust="spacingAndGlyphs">35202.00</text>
<text x="2257.5" y="1124.7" font-size="27.03" font-weight="400" fill="#8c8c8c" textLength="55.1" lengthAdjust="spacingAndGlyphs">0.00</text>
<text x="181.0" y="922.0" font-size="26.16" font-weight="400" fill="#576274" textLength="89.8" lengthAdjust="spacingAndGlyphs">4 21:00</text>
<text x="376.3" y="922.0" font-size="26.16" font-weight="400" fill="#576274" textLength="158.9" lengthAdjust="spacingAndGlyphs">06/04 06:00</text>
<text x="638.8" y="922.0" font-size="26.16" font-weight="400" fill="#576274" textLength="152.3" lengthAdjust="spacingAndGlyphs">06/04 14:00</text>
<text x="896.6" y="922.0" font-size="26.16" font-weight="400" fill="#576274" textLength="155.4" lengthAdjust="spacingAndGlyphs">06/04 22:00</text>
<text x="1155.9" y="922.0" font-size="26.16" font-weight="400" fill="#576274" textLength="155.0" lengthAdjust="spacingAndGlyphs">07/04 07:00</text>
<text x="1419.5" y="922.0" font-size="26.16" font-weight="400" fill="#576274" textLength="147.7" lengthAdjust="spacingAndGlyphs">07/04 15:00</text>
<text x="1675.4" y="922.0" font-size="26.16" font-weight="400" fill="#576274" textLength="153.5" lengthAdjust="spacingAndGlyphs">07/04 23:00</text>
<text x="1932.0" y="922.0" font-size="26.16" font-weight="400" fill="#576274" textLength="160.2" lengthAdjust="spacingAndGlyphs">08/04 08:00</text>
<text x="218.0" y="339.8" font-size="26.45" font-weight="400" fill="#eac453" textLength="168.7" lengthAdjust="spacingAndGlyphs">MA5:4807.98</text>
<text x="403.4" y="339.8" font-size="26.45" font-weight="400" fill="#cf534d" textLength="170.0" lengthAdjust="spacingAndGlyphs">MA10:4791.67</text>
<text x="590.1" y="339.8" font-size="26.45" font-weight="400" fill="#b64fe0" textLength="183.4" lengthAdjust="spacingAndGlyphs">MA20:4723.94</text>
<text x="217.7" y="981.4" font-size="26.02" font-weight="400" fill="#15233d" textLength="176.8" lengthAdjust="spacingAndGlyphs">VOL:16096.00</text>
<text x="412.3" y="981.4" font-size="26.02" font-weight="400" fill="#e6c35c" textLength="176.2" lengthAdjust="spacingAndGlyphs">MA5:22019.00</text>
<text x="606.1" y="981.4" font-size="26.02" font-weight="400" fill="#cd5a5e" textLength="191.8" lengthAdjust="spacingAndGlyphs">MA10:25770.00</text>
</svg>
</body></html>
